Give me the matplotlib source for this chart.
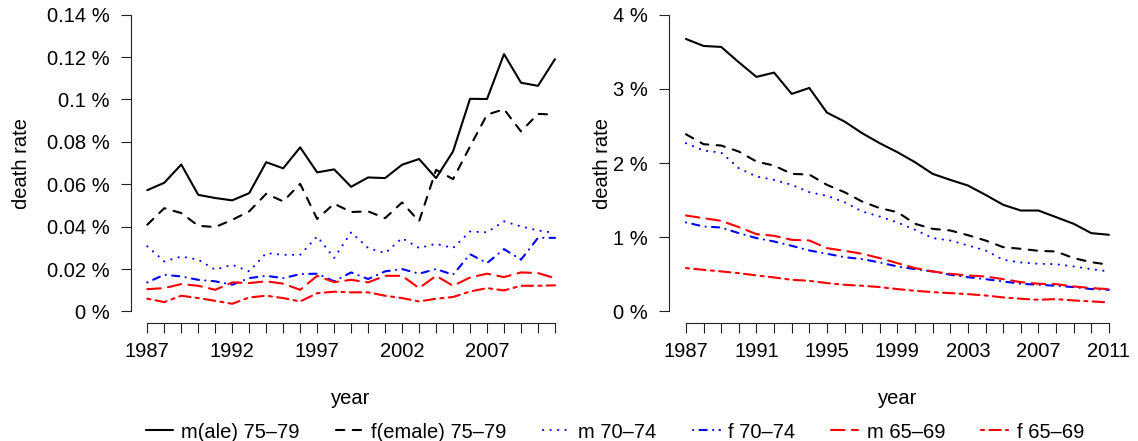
"""
Death rates by age group and sex, 1987-2011.
Left: young-old ages plotted on their own small scale, right: 65-79.
"""
import numpy as np
import matplotlib.pyplot as plt

plt.rcParams['font.family'] = ['Liberation Sans', 'DejaVu Sans']
FS = 14.5

YEARS = np.arange(1987, 2012)

# left panel, death rate in %
LEFT_M75 = [0.0572, 0.0607, 0.0693, 0.0550, 0.0535, 0.0524, 0.0558, 0.0704, 0.0675,
            0.0774, 0.0656, 0.0670, 0.0588, 0.0632, 0.0629, 0.0692, 0.0719, 0.0629,
            0.0755, 0.1003, 0.1002, 0.1214, 0.1079, 0.1064, 0.1190]
LEFT_F75 = [0.0409, 0.0487, 0.0464, 0.0404, 0.0398, 0.0432, 0.0472, 0.0555, 0.0519,
            0.0602, 0.0436, 0.0508, 0.0469, 0.0472, 0.0440, 0.0514, 0.0425, 0.0668,
            0.0624, 0.0778, 0.0928, 0.0954, 0.0849, 0.0932, 0.0928]
LEFT_M70 = [0.0307, 0.0236, 0.0259, 0.0244, 0.0197, 0.0220, 0.0189, 0.0275, 0.0267,
            0.0267, 0.0354, 0.0252, 0.0373, 0.0299, 0.0275, 0.0346, 0.0299, 0.0319,
            0.0299, 0.0377, 0.0373, 0.0425, 0.0401, 0.0382, 0.0370]
LEFT_F70 = [0.0137, 0.0173, 0.0165, 0.0149, 0.0142, 0.0126, 0.0157, 0.0168, 0.0157,
            0.0176, 0.0178, 0.0142, 0.0184, 0.0153, 0.0189, 0.0200, 0.0178, 0.0200,
            0.0173, 0.0270, 0.0228, 0.0294, 0.0244, 0.0347, 0.0347]
LEFT_M65 = [0.0105, 0.0110, 0.0129, 0.0121, 0.0102, 0.0137, 0.0134, 0.0142, 0.0131,
            0.0102, 0.0168, 0.0138, 0.0149, 0.0137, 0.0168, 0.0168, 0.0110, 0.0168,
            0.0121, 0.0160, 0.0178, 0.0162, 0.0184, 0.0181, 0.0157]
LEFT_F65 = [0.0060, 0.0044, 0.0074, 0.0063, 0.0050, 0.0036, 0.0066, 0.0074, 0.0063,
            0.0047, 0.0086, 0.0093, 0.0090, 0.0090, 0.0074, 0.0063, 0.0047, 0.0060,
            0.0068, 0.0094, 0.0110, 0.0099, 0.0121, 0.0121, 0.0123]

# right panel, death rate in %
RIGHT_M75 = [3.672, 3.578, 3.565, 3.358, 3.161, 3.219, 2.932, 3.012, 2.680, 2.559,
             2.402, 2.267, 2.146, 2.011, 1.854, 1.773, 1.697, 1.571, 1.437, 1.360,
             1.360, 1.271, 1.181, 1.055, 1.033]
RIGHT_F75 = [2.388, 2.254, 2.236, 2.155, 2.020, 1.966, 1.854, 1.845, 1.706, 1.607,
             1.481, 1.392, 1.338, 1.181, 1.113, 1.091, 1.028, 0.956, 0.866, 0.844,
             0.817, 0.808, 0.718, 0.664, 0.629]
RIGHT_M70 = [2.267, 2.168, 2.141, 1.930, 1.818, 1.773, 1.706, 1.607, 1.558, 1.472,
             1.347, 1.279, 1.199, 1.100, 0.988, 0.956, 0.889, 0.822, 0.696, 0.660,
             0.642, 0.637, 0.606, 0.570, 0.539]
RIGHT_F70 = [1.199, 1.145, 1.131, 1.055, 0.988, 0.943, 0.884, 0.822, 0.777, 0.732,
             0.705, 0.660, 0.606, 0.570, 0.539, 0.494, 0.462, 0.435, 0.404, 0.373,
             0.359, 0.346, 0.328, 0.301, 0.292]
RIGHT_M65 = [1.293, 1.257, 1.221, 1.136, 1.042, 1.019, 0.965, 0.956, 0.853, 0.817,
             0.777, 0.718, 0.651, 0.584, 0.539, 0.507, 0.485, 0.471, 0.435, 0.395,
             0.373, 0.368, 0.337, 0.314, 0.301]
RIGHT_F65 = [0.584, 0.561, 0.539, 0.516, 0.485, 0.458, 0.426, 0.413, 0.382, 0.359,
             0.346, 0.328, 0.301, 0.278, 0.260, 0.247, 0.233, 0.215, 0.189, 0.171,
             0.157, 0.166, 0.148, 0.135, 0.121]

LABELS = ['m(ale) 75\u201379', 'f(emale) 75\u201379', 'm 70\u201374',
          'f 70\u201374', 'm 65\u201369', 'f 65\u201369']

LEFT_YTICKS = [0, 0.02, 0.04, 0.06, 0.08, 0.10, 0.12, 0.14]
LEFT_YLABELS = ['0 %', '0.02 %', '0.04 %', '0.06 %', '0.08 %', '0.1 %', '0.12 %', '0.14 %']
RIGHT_YTICKS = [0, 1, 2, 3, 4]
RIGHT_YLABELS = ['0 %', '1 %', '2 %', '3 %', '4 %']
LEFT_XLABELED = [1987, 1992, 1997, 2002, 2007]
RIGHT_XLABELED = [1987, 1991, 1995, 1999, 2003, 2007, 2011]

# R style line types: solid, dashed, dotted, dotdash, longdash, twodash
# (round caps, so the "dots" are near-zero dashes)
STYLES = [('black', None), ('black', (4, 4)), ('blue', (0.1, 3.5)),
          ('blue', (0.1, 3, 3.5, 3)), ('red', (6.5, 3.5)), ('red', (1.5, 2.5, 5.5, 2.5))]


def draw_panel(ax, series, yticks, ylabels, xlabeled, ylabel_x):
    lines = []
    for values, (color, dash) in zip(series, STYLES):
        line, = ax.plot(YEARS, values, color=color, lw=1.5,
                        solid_capstyle='round', dash_capstyle='round')
        if dash is not None:
            line.set_dashes(dash)
        lines.append(line)
    # R adds 4 % padding round the range
    ax.set_xlim(1987 - 0.96, 2011 + 0.96)
    pad = 0.04 * (yticks[-1] - yticks[0])
    ax.set_ylim(yticks[0] - pad, yticks[-1] + pad)
    ax.set_yticks(yticks)
    ax.set_yticklabels(ylabels)
    ax.set_xticks(YEARS)
    ax.set_xticklabels([str(y) if y in xlabeled else '' for y in YEARS])
    for side in ['top', 'right']:
        ax.spines[side].set_visible(False)
    ax.spines['left'].set_bounds(yticks[0], yticks[-1])
    ax.spines['bottom'].set_bounds(1987, 2011)
    for side in ['left', 'bottom']:
        ax.spines[side].set_linewidth(0.8)
        ax.spines[side].set_color('#222222')
    ax.tick_params(axis='y', length=7.2, width=0.8, color='#222222', pad=8, labelsize=FS)
    ax.tick_params(axis='x', length=7.2, width=0.8, color='#222222', pad=6, labelsize=FS)
    ax.set_ylabel('death rate', fontsize=FS)
    ax.yaxis.set_label_coords(ylabel_x, 0.5)
    ax.set_xlabel('year', fontsize=FS)
    ax.xaxis.set_label_coords(0.5, -0.206)
    return lines


fig = plt.figure(figsize=(11.38, 4.41), dpi=100)
ax_left = fig.add_axes([0.1151, 0.2669, 0.3869, 0.7268])
ax_right = fig.add_axes([0.5879, 0.2669, 0.4014, 0.7268])

handles = draw_panel(ax_left, [LEFT_M75, LEFT_F75, LEFT_M70, LEFT_F70, LEFT_M65, LEFT_F65],
                     LEFT_YTICKS, LEFT_YLABELS, LEFT_XLABELED, -0.227)
draw_panel(ax_right, [RIGHT_M75, RIGHT_F75, RIGHT_M70, RIGHT_F70, RIGHT_M65, RIGHT_F65],
           RIGHT_YTICKS, RIGHT_YLABELS, RIGHT_XLABELED, -0.125)

fig.legend(handles, LABELS, loc='center', bbox_to_anchor=(0.5404, 0.0204), ncol=6,
           frameon=False, fontsize=FS, handlelength=1.35, handletextpad=0.4,
           columnspacing=1.8, borderpad=0, borderaxespad=0)

fig.savefig('out.png', dpi=100)
plt.close(fig)
